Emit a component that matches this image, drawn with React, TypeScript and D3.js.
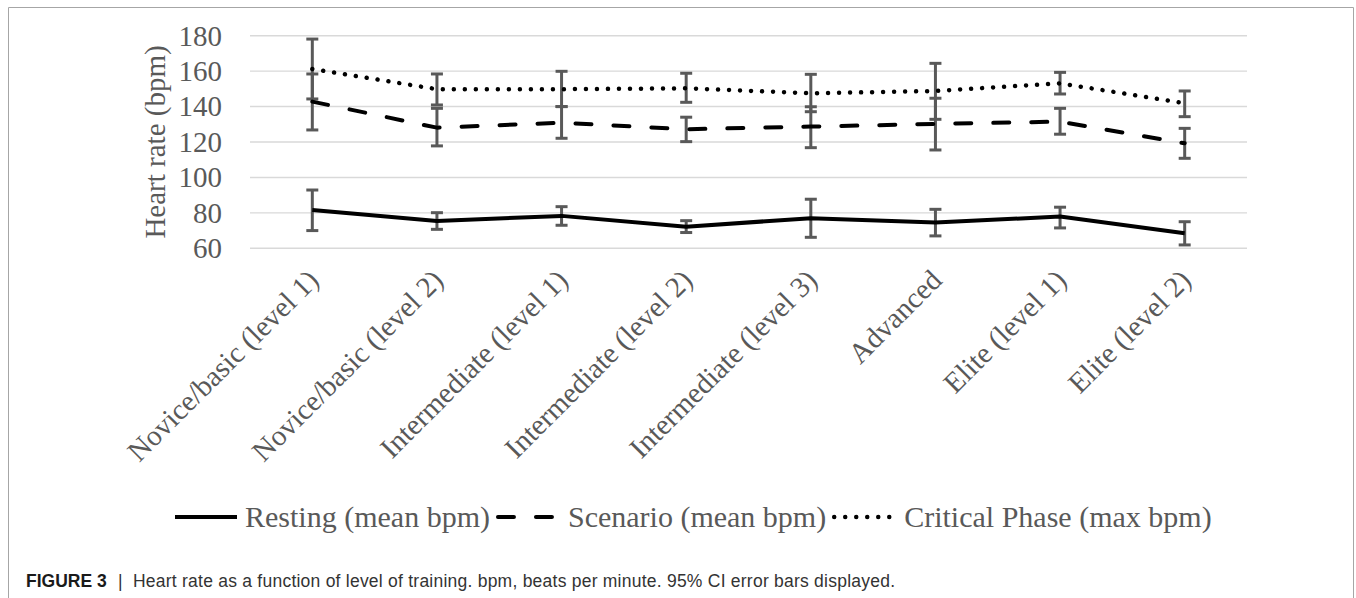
import { useEffect, useRef } from 'react';
import * as d3 from 'd3';

const categories = [
  'Novice/basic (level 1)',
  'Novice/basic (level 2)',
  'Intermediate (level 1)',
  'Intermediate (level 2)',
  'Intermediate (level 3)',
  'Advanced',
  'Elite (level 1)',
  'Elite (level 2)',
];

const yTicks = [60, 80, 100, 120, 140, 160, 180];

const restingMean = [81.6, 75.4, 78.3, 72.2, 77.0, 74.5, 77.9, 68.5];
const restingLo = [70.0, 70.7, 73.0, 68.9, 66.2, 67.0, 71.5, 61.9];
const restingHi = [92.9, 80.1, 83.5, 75.6, 87.7, 82.0, 83.2, 75.0];

const scenarioMean = [142.8, 128.1, 130.9, 127.2, 128.7, 130.2, 131.5, 119.3];
const scenarioLo = [126.8, 117.8, 122.1, 120.2, 116.8, 115.5, 124.4, 110.8];
const scenarioHi = [158.4, 139.0, 140.0, 134.0, 139.9, 144.7, 139.0, 127.7];

const criticalMean = [161.2, 149.8, 149.8, 150.3, 147.5, 148.8, 153.1, 141.9];
const criticalLo = [144.3, 140.9, 140.0, 142.4, 137.1, 132.8, 147.1, 134.3];
const criticalHi = [178.1, 158.4, 159.9, 158.8, 158.2, 164.4, 159.3, 148.8];

const seriesNames = ['Resting (mean bpm)', 'Scenario (mean bpm)', 'Critical Phase (max bpm)'];

const W = 1356;
const H = 598;

export default function App() {
  const svgRef = useRef<SVGSVGElement>(null);

  useEffect(() => {
    if (!svgRef.current) return;
    const svg = d3.select(svgRef.current);
    svg.selectAll('*').remove();

    const serif = '"Liberation Serif", "Times New Roman", serif';
    const sans = '"Liberation Sans", Arial, sans-serif';
    const gray = '#595959';
    const fs = 29;

    // outer frame (bottom edge is cut off)
    svg.append('path')
      .attr('d', `M8.5,${H} V7.5 H1353.5 V${H}`)
      .attr('fill', 'none')
      .attr('stroke', '#a6a6a6')
      .attr('stroke-width', 1);

    const x = d3.scalePoint<string>().domain(categories).range([250, 1247]).padding(0.5);
    const y = d3.scaleLinear().domain([60, 180]).range([248.3, 35.7]);

    // Grid
    svg.append('g')
      .selectAll('line')
      .data(yTicks)
      .join('line')
      .attr('x1', 250).attr('x2', 1247)
      .attr('y1', d => y(d)).attr('y2', d => y(d))
      .attr('stroke', '#d9d9d9')
      .attr('stroke-width', 1.4);

    // Y tick labels
    svg.append('g')
      .selectAll('text')
      .data(yTicks)
      .join('text')
      .attr('x', 222)
      .attr('y', d => y(d))
      .attr('dy', '0.34em')
      .attr('text-anchor', 'end')
      .attr('font-family', serif)
      .attr('font-size', fs)
      .attr('fill', gray)
      .text(d => d);

    // Y title
    svg.append('text')
      .attr('transform', `translate(165,142) rotate(-90)`)
      .attr('text-anchor', 'middle')
      .attr('font-family', serif)
      .attr('font-size', fs)
      .attr('fill', gray)
      .text('Heart rate (bpm)');

    // X labels
    svg.append('g')
      .selectAll('text')
      .data(categories)
      .join('text')
      .attr('transform', d => `translate(${(x(d) as number) + 8},282) rotate(-45)`)
      .attr('text-anchor', 'end')
      .attr('font-family', serif)
      .attr('font-size', fs)
      .attr('fill', gray)
      .text(d => d);

    const series = [
      { mean: restingMean, lo: restingLo, hi: restingHi, dash: null as string | null },
      { mean: scenarioMean, lo: scenarioLo, hi: scenarioHi, dash: '16,22' },
      { mean: criticalMean, lo: criticalLo, hi: criticalHi, dash: '0.01,11' },
    ];

    const line = d3.line<number>()
      .x((_, i) => x(categories[i]) as number)
      .y(d => y(d));

    // Error bars
    series.forEach(s => {
      const eb = svg.append('g').attr('stroke', gray).attr('stroke-width', 3);
      categories.forEach((c, i) => {
        const cx = x(c) as number;
        eb.append('line').attr('x1', cx).attr('x2', cx).attr('y1', y(s.lo[i])).attr('y2', y(s.hi[i]));
        eb.append('line').attr('x1', cx - 6).attr('x2', cx + 6).attr('y1', y(s.lo[i])).attr('y2', y(s.lo[i]));
        eb.append('line').attr('x1', cx - 6).attr('x2', cx + 6).attr('y1', y(s.hi[i])).attr('y2', y(s.hi[i]));
      });
    });

    // Lines
    series.forEach(s => {
      svg.append('path')
        .attr('d', line(s.mean))
        .attr('fill', 'none')
        .attr('stroke', '#000')
        .attr('stroke-width', s.dash === '0.01,11' ? 4.5 : 4)
        .attr('stroke-linecap', s.dash ? 'round' : 'butt')
        .attr('stroke-linejoin', 'round')
        .attr('stroke-dasharray', s.dash);
    });

    // Legend
    const legend = svg.append('g').attr('transform', 'translate(173,517)');
    let lx = 0;
    series.forEach((s, i) => {
      legend.append('line')
        .attr('x1', lx + 2).attr('x2', lx + 64)
        .attr('y1', 0).attr('y2', 0)
        .attr('stroke', '#000')
        .attr('stroke-width', s.dash === '0.01,11' ? 4.5 : 4)
        .attr('stroke-linecap', s.dash ? 'round' : 'butt')
        .attr('stroke-dasharray', s.dash);
      const t = legend.append('text')
        .attr('x', lx + 72)
        .attr('y', 0)
        .attr('dy', '0.33em')
        .attr('font-family', serif)
        .attr('font-size', 30)
        .attr('fill', gray)
        .text(seriesNames[i]);
      const tw = (t.node() as SVGTextElement).getComputedTextLength();
      lx += 72 + tw + 6;
    });

    // Caption
    const cap = svg.append('text')
      .attr('y', 587)
      .attr('font-family', sans)
      .attr('font-size', 17.5)
      .attr('fill', '#333');
    cap.append('tspan').attr('x', 26).attr('font-weight', 'bold').attr('fill', '#1a1a1a').text('FIGURE 3');
    cap.append('tspan').attr('x', 118).text('|');
    cap.append('tspan')
      .attr('x', 133)
      .attr('textLength', 762)
      .attr('lengthAdjust', 'spacing')
      .text('Heart rate as a function of level of training. bpm, beats per minute. 95% CI error bars displayed.');
  }, []);

  return (
    <div style={{ position: 'absolute', left: 0, top: 0 }}>
      <svg ref={svgRef} width={W} height={H} style={{ display: 'block', background: '#fff' }}></svg>
    </div>
  );
}
